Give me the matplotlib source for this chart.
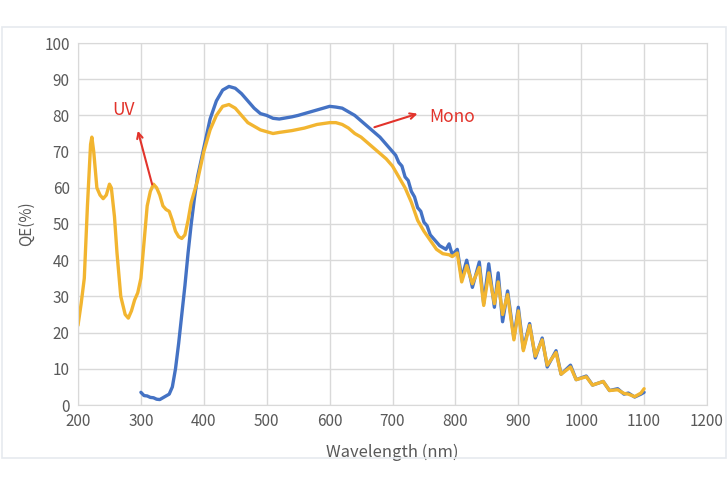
import matplotlib.pyplot as plt
from matplotlib.patches import Rectangle

plt.rcParams['font.family'] = ['Noto Sans CJK SC', 'DejaVu Sans']

# Mono (blue) curve
mono_nm = [300, 305, 310, 315, 320, 325, 330, 335, 340, 345, 350, 355, 360, 365, 370,
           375, 380, 385, 390, 400, 410, 420, 430, 440, 450, 460, 470, 480, 490, 500,
           510, 520, 530, 540, 550, 560, 570, 580, 590, 600, 610, 620, 630, 640, 650,
           660, 670, 680, 690, 700, 705, 710, 715, 720, 725, 730, 735, 740, 745, 750,
           755, 760, 765, 770, 775, 780, 785, 790, 795, 803, 810, 818, 827, 838, 845,
           853, 862, 868, 875, 883, 893, 900, 908, 918, 927, 938, 946, 960, 968, 983,
           992, 1008, 1018, 1035, 1045, 1058, 1068, 1075, 1085, 1095, 1100]
mono_qe = [3.5, 2.6, 2.5, 2.1, 2.0, 1.6, 1.5, 2.0, 2.5, 3.0, 5, 10, 17, 25, 33,
           42, 50, 57, 63, 71, 79, 84, 87, 88, 87.5, 86, 84, 82, 80.5, 80,
           79.2, 79, 79.3, 79.6, 80, 80.5, 81, 81.5, 82, 82.5, 82.3, 82, 81, 80, 78.5,
           77, 75.5, 74, 72, 70, 69, 67, 66, 63, 62, 59, 57.5, 54.5, 53.5, 50.5,
           49.5, 47, 46, 45, 44, 43.5, 43, 44.5, 41.5, 43, 35, 40, 32.5, 39.5, 28,
           39, 27, 36.5, 23, 31.5, 18.5, 27, 15.5, 22.5, 13, 18.5, 10.5, 15, 8.5, 11,
           7, 8, 5.5, 6.5, 4, 4.5, 3, 3.3, 2.2, 3, 3.5]

# UV (yellow) curve
uv_nm = [200, 205, 210, 215, 220, 222, 225, 230, 235, 240, 245, 250, 253, 258, 262,
         268, 275, 280, 285, 290, 295, 300, 305, 310, 315, 320, 325, 330, 335, 340,
         345, 350, 355, 360, 365, 370, 375, 380, 390, 400, 410, 420, 430, 440, 450,
         460, 470, 480, 490, 500, 510, 520, 540, 560, 580, 600, 610, 620, 630, 640,
         650, 660, 670, 680, 690, 700, 710, 720, 730, 740, 750, 760, 770, 780, 790,
         795, 803, 810, 818, 827, 838, 845, 853, 862, 868, 875, 883, 893, 900, 908,
         918, 927, 938, 946, 960, 968, 983, 992, 1008, 1018, 1035, 1045, 1058, 1068,
         1075, 1085, 1095, 1100]
uv_qe = [22, 28, 35, 55, 72, 74, 70, 60, 58, 57, 58, 61, 60, 52, 42,
         30, 25, 24, 26, 29, 31, 35, 45, 55, 59, 61, 60, 58, 55, 54,
         53.5, 51, 48, 46.5, 46, 47, 51, 56, 62, 70, 76, 80, 82.5, 83, 82,
         80, 78, 77, 76, 75.5, 75, 75.3, 75.8, 76.5, 77.5, 78, 78, 77.5, 76.5, 75,
         74, 72.5, 71, 69.5, 68, 66, 63, 60, 56, 51, 48, 45.5, 43, 41.8, 41.5,
         41, 42, 34, 38.5, 33.5, 38, 27.5, 36.5, 28, 34, 25, 30.5, 18, 26, 15,
         22, 13.5, 18, 11, 14.5, 8.5, 10.5, 7, 7.8, 5.5, 6.5, 4, 4.2, 3.2,
         3, 2.3, 3.3, 4.5]

x_ticks = list(range(200, 1201, 100))
y_ticks = list(range(0, 101, 10))

fig = plt.figure(figsize=(7.28, 4.87), dpi=100)
fig.patches.append(Rectangle((2 / 728, 1 - 458 / 487), 724 / 728, 431 / 487,
                             transform=fig.transFigure, fill=False,
                             edgecolor='#e6eaef', linewidth=1.2))
ax = fig.add_axes([78 / 728, 1 - 405 / 487, 629 / 728, 362 / 487])

ax.plot(mono_nm, mono_qe, color='#4472C4', linewidth=2.4,
        solid_joinstyle='round', solid_capstyle='round')
ax.plot(uv_nm, uv_qe, color='#F2B530', linewidth=2.4,
        solid_joinstyle='round', solid_capstyle='round')

ax.set_xlim(200, 1200)
ax.set_ylim(0, 100)
ax.set_xticks(x_ticks)
ax.set_yticks(y_ticks)
ax.grid(True, color='#d9d9d9', linewidth=1.0)
ax.set_axisbelow(True)
for s in ax.spines.values():
    s.set_color('#d9d9d9')
ax.tick_params(length=0, labelsize=11, colors='#595959', pad=6)
ax.set_xlabel('Wavelength (nm)', fontsize=12, color='#595959', labelpad=10)
ax.set_ylabel('QE(%)', fontsize=11, color='#595959', labelpad=7)

red = '#E2332B'
ax.annotate('', xy=(294, 76.5), xytext=(319, 60.2),
            arrowprops=dict(arrowstyle='->', color=red, lw=1.5))
ax.text(273, 81.5, 'UV', color=red, fontsize=12.5, ha='center', va='center')
ax.annotate('', xy=(744, 80.7), xytext=(667, 76.5),
            arrowprops=dict(arrowstyle='->', color=red, lw=1.5))
ax.text(758, 79.6, 'Mono', color=red, fontsize=12.5, ha='left', va='center')

fig.savefig('out.png', dpi=100)
